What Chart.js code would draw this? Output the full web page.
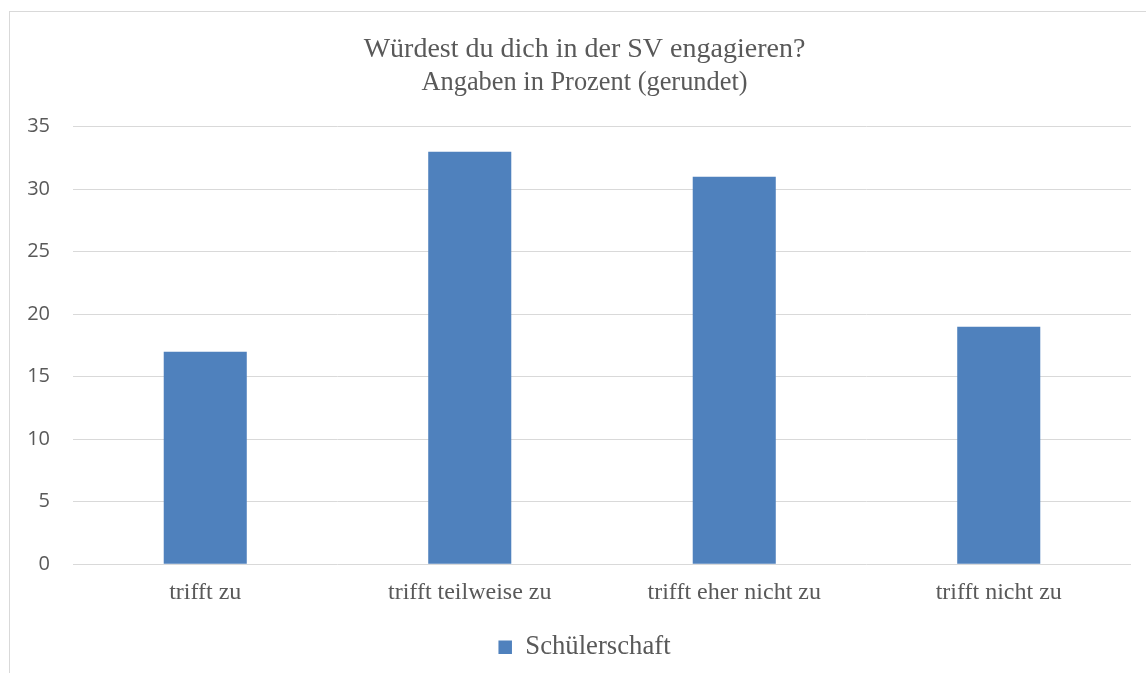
<!DOCTYPE html>
<html>
<head>
<meta charset="utf-8">
<script src="https://cdn.jsdelivr.net/npm/chart.js@4/dist/chart.umd.min.js"></script>
<style>
  html, body { margin: 0; padding: 0; background: #ffffff; overflow: hidden; width: 1146px; height: 673px; }
  #wrap { position: absolute; left: 0; top: 0; width: 1160px; height: 673px; }
</style>
</head>
<body>
<div id="wrap"><canvas id="c" width="1160" height="673"></canvas></div>
<script>
const categories = ["trifft zu", "trifft teilweise zu", "trifft eher nicht zu", "trifft nicht zu"];
const seriesName = "Schülerschaft";
const values = [17, 33, 31, 19];
const titleLines = ["Würdest du dich in der SV engagieren?"];
const subtitleText = "Angaben in Prozent (gerundet)";
const yMin = 0, yMax = 35, yStep = 5;

const TEXT = "#595959";
const GRID = "#d9d9d9";
const BAR = "#4f81bd";
const SERIF = "'Liberation Serif', 'Times New Roman', serif";
const SANS = "'Open Sans', 'Liberation Sans', sans-serif";

const borderPlugin = {
  id: "outerBorder",
  beforeDraw(chart) {
    const ctx = chart.ctx;
    ctx.save();
    ctx.fillStyle = "#ffffff";
    ctx.fillRect(0, 0, chart.width, chart.height);
    ctx.strokeStyle = GRID;
    ctx.lineWidth = 1;
    ctx.strokeRect(9.5, 11.5, 3000, 3000);
    ctx.restore();
  }
};

new Chart(document.getElementById("c"), {
  type: "bar",
  data: {
    labels: categories,
    datasets: [{
      label: seriesName,
      data: values,
      backgroundColor: BAR,
      borderWidth: 0,
      categoryPercentage: 1.0,
      barPercentage: 0.314,
      yAxisID: "y"
    }]
  },
  options: {
    responsive: false,
    animation: false,
    layout: { padding: { left: 20, right: 11, top: 32.4, bottom: 2.5 } },
    plugins: {
      title: {
        display: true,
        text: titleLines,
        color: TEXT,
        font: { family: SERIF, size: 28, weight: "normal" },
        padding: { top: 0, bottom: 0 }
      },
      subtitle: {
        display: true,
        text: subtitleText,
        color: TEXT,
        font: { family: SERIF, size: 26.4, weight: "normal" },
        padding: { top: 1.5, bottom: 27.5 }
      },
      legend: {
        display: true,
        position: "bottom",
        labels: {
          color: TEXT,
          font: { family: SERIF, size: 26.7 },
          boxWidth: 13.5,
          boxHeight: 13.5,
          padding: 12.7
        }
      },
      tooltip: { enabled: false }
    },
    scales: {
      x: {
        grid: { display: false, drawTicks: false },
        border: { display: false },
        ticks: {
          color: TEXT,
          font: { family: SERIF, size: 24 },
          padding: 14,
          maxRotation: 0,
          autoSkip: false
        }
      },
      y: {
        min: yMin,
        max: yMax,
        grid: { color: GRID, lineWidth: 1, drawTicks: false },
        border: { display: false },
        ticks: {
          stepSize: yStep,
          color: TEXT,
          font: { family: SANS, size: 20 },
          padding: 23
        },
        afterFit(scale) { scale.width = 53; }
      },
      yRight: {
        type: "linear",
        position: "right",
        min: yMin,
        max: yMax,
        grid: { display: false, drawTicks: false },
        border: { display: false },
        ticks: { display: false },
        afterFit(scale) { scale.width = 18; }
      }
    }
  },
  plugins: [borderPlugin]
});
</script>
</body>
</html>
